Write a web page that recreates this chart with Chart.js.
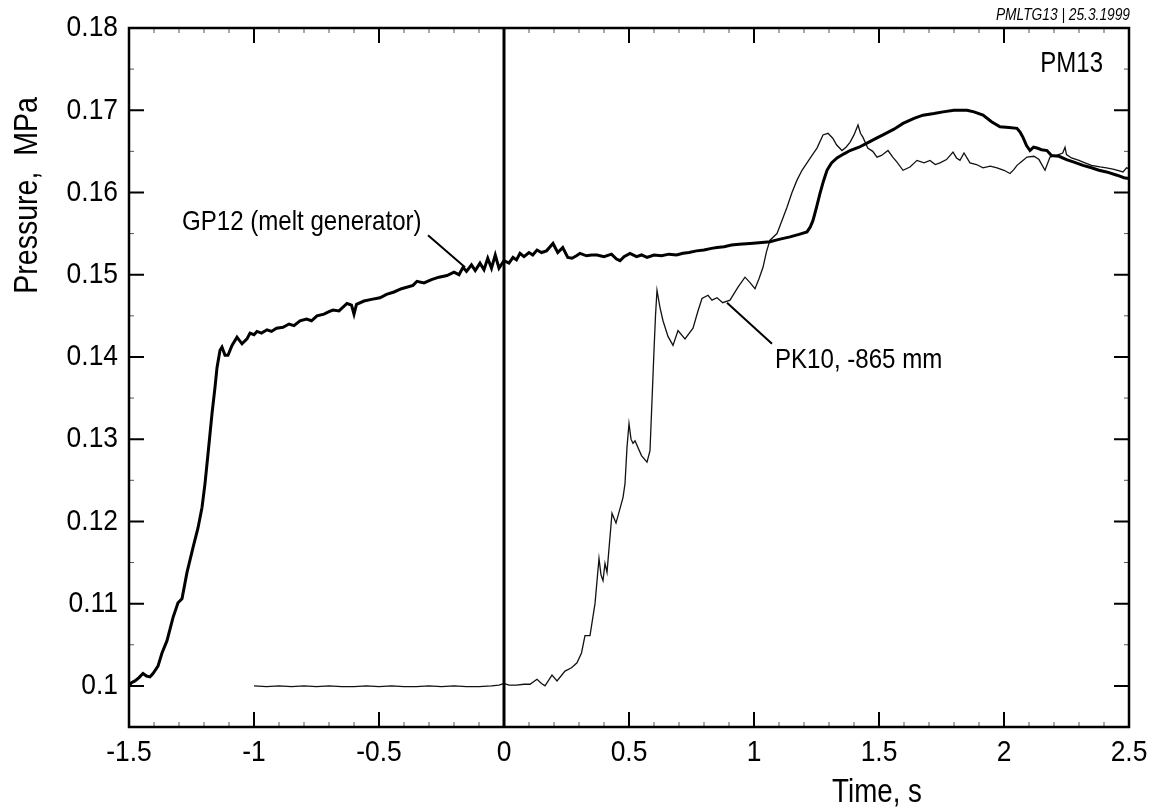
<!DOCTYPE html>
<html>
<head>
<meta charset="utf-8">
<script src="https://cdn.jsdelivr.net/npm/chart.js@4.4.1/dist/chart.umd.min.js"></script>
<style>
  html, body { margin: 0; padding: 0; background: #fff; }
  canvas { display: block; }
</style>
</head>
<body>
<canvas id="pressureChart" width="1152" height="812"></canvas>
<script>
// GP12 (melt generator)
const gp12Time = [-1.5, -1.49, -1.476, -1.46, -1.444, -1.43, -1.416, -1.404, -1.384, -1.368, -1.348, -1.324, -1.304, -1.288, -1.268, -1.244, -1.224, -1.208, -1.196, -1.184, -1.168, -1.156, -1.148, -1.136, -1.128, -1.116, -1.104, -1.088, -1.068, -1.048, -1.028, -1.016, -1.0, -0.988, -0.97, -0.948, -0.93, -0.91, -0.884, -0.86, -0.84, -0.816, -0.79, -0.77, -0.748, -0.72, -0.7, -0.684, -0.66, -0.628, -0.61, -0.6, -0.59, -0.56, -0.53, -0.496, -0.47, -0.44, -0.41, -0.364, -0.348, -0.32, -0.29, -0.26, -0.228, -0.2, -0.18, -0.164, -0.15, -0.13, -0.115, -0.096, -0.08, -0.065, -0.05, -0.035, -0.02, 0.0, 0.02, 0.036, 0.05, 0.064, 0.08, 0.1, 0.115, 0.132, 0.15, 0.17, 0.196, 0.215, 0.235, 0.255, 0.272, 0.29, 0.304, 0.33, 0.35, 0.372, 0.4, 0.43, 0.45, 0.464, 0.48, 0.504, 0.53, 0.55, 0.572, 0.6, 0.63, 0.66, 0.69, 0.716, 0.74, 0.77, 0.8, 0.83, 0.852, 0.88, 0.91, 0.94, 0.984, 1.02, 1.064, 1.1, 1.144, 1.18, 1.212, 1.225, 1.236, 1.25, 1.264, 1.278, 1.292, 1.31, 1.332, 1.36, 1.384, 1.42, 1.452, 1.49, 1.516, 1.56, 1.596, 1.64, 1.676, 1.72, 1.756, 1.8, 1.852, 1.88, 1.916, 1.95, 1.984, 2.02, 2.052, 2.065, 2.076, 2.09, 2.104, 2.118, 2.132, 2.15, 2.172, 2.19, 2.22, 2.25, 2.28, 2.316, 2.35, 2.38, 2.41, 2.452, 2.48, 2.5];
const gp12Pressure = [0.1, 0.1004, 0.1006, 0.101, 0.1015, 0.1012, 0.1011, 0.1015, 0.1024, 0.104, 0.1055, 0.1083, 0.1101, 0.1106, 0.1138, 0.1168, 0.1192, 0.1217, 0.1246, 0.1282, 0.1331, 0.1363, 0.1387, 0.1408, 0.1412, 0.1402, 0.1402, 0.1414, 0.1424, 0.1416, 0.1422, 0.1429, 0.1427, 0.1431, 0.1429, 0.1433, 0.1431, 0.1435, 0.1436, 0.144, 0.1438, 0.1444, 0.1446, 0.1444, 0.145, 0.1452, 0.1455, 0.1457, 0.1456, 0.1465, 0.1463, 0.1452, 0.1464, 0.1468, 0.147, 0.1472, 0.1476, 0.1479, 0.1483, 0.1487, 0.1492, 0.149, 0.1494, 0.1497, 0.1499, 0.1503, 0.15, 0.1509, 0.1504, 0.1512, 0.1505, 0.1514, 0.1506, 0.152, 0.1508, 0.1524, 0.1508, 0.1517, 0.1514, 0.1521, 0.1518, 0.1526, 0.1522, 0.1527, 0.1524, 0.153, 0.1527, 0.1529, 0.1538, 0.1527, 0.1533, 0.1521, 0.152, 0.1523, 0.1526, 0.1523, 0.1524, 0.1524, 0.1522, 0.1525, 0.1519, 0.1517, 0.1522, 0.1526, 0.1522, 0.1524, 0.1521, 0.1524, 0.1523, 0.1525, 0.1524, 0.1526, 0.1527, 0.1529, 0.153, 0.1532, 0.1533, 0.1534, 0.1536, 0.1537, 0.1538, 0.1539, 0.154, 0.1543, 0.1546, 0.1549, 0.1552, 0.1558, 0.1566, 0.1582, 0.1599, 0.1614, 0.1627, 0.1636, 0.1642, 0.1647, 0.1651, 0.1655, 0.166, 0.1666, 0.167, 0.1677, 0.1684, 0.169, 0.1694, 0.1696, 0.1698, 0.17, 0.17, 0.1698, 0.1694, 0.1686, 0.168, 0.1679, 0.1678, 0.1673, 0.1667, 0.1657, 0.1651, 0.1655, 0.1654, 0.1652, 0.1651, 0.1645, 0.1644, 0.164, 0.1637, 0.1633, 0.163, 0.1627, 0.1625, 0.1621, 0.1618, 0.1617];

// PK10, -865 mm
const pk10Time = [-1.0, -0.95, -0.9, -0.85, -0.8, -0.75, -0.7, -0.65, -0.6, -0.55, -0.5, -0.45, -0.4, -0.35, -0.3, -0.25, -0.2, -0.15, -0.1, -0.05, -0.02, 0.0, 0.02, 0.05, 0.08, 0.104, 0.132, 0.15, 0.164, 0.192, 0.212, 0.244, 0.27, 0.292, 0.31, 0.324, 0.344, 0.364, 0.38, 0.388, 0.396, 0.404, 0.412, 0.432, 0.448, 0.476, 0.484, 0.492, 0.5, 0.508, 0.516, 0.524, 0.55, 0.572, 0.584, 0.592, 0.6, 0.606, 0.612, 0.624, 0.636, 0.656, 0.676, 0.696, 0.724, 0.756, 0.775, 0.792, 0.816, 0.832, 0.852, 0.875, 0.904, 0.936, 0.964, 0.985, 1.004, 1.02, 1.036, 1.05, 1.064, 1.092, 1.112, 1.132, 1.152, 1.172, 1.192, 1.212, 1.232, 1.252, 1.276, 1.296, 1.315, 1.33, 1.352, 1.368, 1.384, 1.4, 1.416, 1.426, 1.436, 1.455, 1.475, 1.492, 1.51, 1.536, 1.555, 1.572, 1.596, 1.624, 1.652, 1.68, 1.704, 1.725, 1.744, 1.77, 1.796, 1.81, 1.824, 1.84, 1.864, 1.89, 1.916, 1.945, 1.972, 2.0, 2.024, 2.04, 2.052, 2.072, 2.092, 2.12, 2.14, 2.164, 2.184, 2.21, 2.235, 2.244, 2.25, 2.27, 2.3, 2.316, 2.35, 2.384, 2.41, 2.44, 2.476, 2.49, 2.5];
const pk10Pressure = [0.1, 0.0999, 0.1, 0.0999, 0.1, 0.0999, 0.1, 0.0999, 0.0999, 0.1, 0.0999, 0.1, 0.0999, 0.0999, 0.1, 0.0999, 0.1, 0.0999, 0.0999, 0.1, 0.1001, 0.1003, 0.1001, 0.1001, 0.1002, 0.1002, 0.1008, 0.1003, 0.1, 0.1013, 0.1006, 0.1018, 0.1022, 0.1028, 0.104, 0.1061, 0.1061, 0.11, 0.1155, 0.1135, 0.1128, 0.1149, 0.1138, 0.121, 0.1198, 0.1229, 0.1246, 0.129, 0.1319, 0.13, 0.1295, 0.1298, 0.128, 0.1272, 0.1286, 0.1347, 0.1408, 0.145, 0.1481, 0.146, 0.1444, 0.1425, 0.1414, 0.1432, 0.1422, 0.1435, 0.1455, 0.1471, 0.1475, 0.1469, 0.1472, 0.1466, 0.1469, 0.1485, 0.1497, 0.149, 0.1483, 0.1495, 0.1509, 0.1528, 0.1542, 0.155, 0.1566, 0.1582, 0.16, 0.1615, 0.1627, 0.1636, 0.1645, 0.1654, 0.167, 0.1672, 0.1666, 0.1658, 0.1651, 0.1655, 0.1661, 0.167, 0.1682, 0.1672, 0.1667, 0.1654, 0.165, 0.1643, 0.1645, 0.1651, 0.1643, 0.1637, 0.1627, 0.1631, 0.1639, 0.1636, 0.1639, 0.1634, 0.1636, 0.164, 0.1649, 0.1642, 0.1639, 0.1648, 0.1636, 0.1634, 0.163, 0.1632, 0.163, 0.1627, 0.1623, 0.1628, 0.1633, 0.1638, 0.1643, 0.1644, 0.164, 0.1627, 0.1643, 0.1645, 0.1648, 0.1655, 0.1646, 0.1642, 0.1639, 0.1637, 0.1633, 0.1631, 0.163, 0.1628, 0.1625, 0.163, 0.1629];

// axis ticks
const xTicks = [-1.5, -1, -0.5, 0, 0.5, 1, 1.5, 2, 2.5];
const yTicks = [0.1, 0.11, 0.12, 0.13, 0.14, 0.15, 0.16, 0.17, 0.18];

const FONT = "'Liberation Sans', Arial, sans-serif";

function toPoints(xs, ys) {
    return xs.map((x, i) => ({ x: x, y: ys[i] }));
}

// the scanned figure uses a condensed face, so squeeze the text horizontally
function drawText(ctx, text, x, y, size, align, squeeze, rotate, style) {
    ctx.save();
    ctx.translate(x, y);
    if (rotate) ctx.rotate(rotate);
    ctx.scale(squeeze, 1);
    ctx.font = (style ? style + ' ' : '') + size + 'px ' + FONT;
    ctx.textAlign = align;
    ctx.fillText(text, 0, 0);
    ctx.restore();
}

// frame, inward ticks, labels, annotations
const decorPlugin = {
    id: 'decor',
    afterDraw(chart) {
        const ctx = chart.ctx;
        const area = chart.chartArea;
        const xs = chart.scales.x;
        const ys = chart.scales.y;
        ctx.save();
        ctx.strokeStyle = '#000';
        ctx.fillStyle = '#000';

        // vertical line at t = 0
        ctx.lineWidth = 3;
        ctx.beginPath();
        ctx.moveTo(xs.getPixelForValue(0), area.top);
        ctx.lineTo(xs.getPixelForValue(0), area.bottom);
        ctx.stroke();

        // minor ticks
        ctx.lineWidth = 1;
        ctx.strokeStyle = '#555';
        for (let i = -15; i <= 25; i++) {
            if (i % 5 === 0) continue;
            const px = xs.getPixelForValue(i / 10);
            ctx.beginPath();
            ctx.moveTo(px, area.bottom); ctx.lineTo(px, area.bottom - 5);
            ctx.moveTo(px, area.top); ctx.lineTo(px, area.top + 5);
            ctx.stroke();
        }
        for (let i = 19; i <= 35; i += 2) {
            const py = ys.getPixelForValue(i * 0.005);
            ctx.beginPath();
            ctx.moveTo(area.left, py); ctx.lineTo(area.left + 5, py);
            ctx.moveTo(area.right, py); ctx.lineTo(area.right - 5, py);
            ctx.stroke();
        }

        // major ticks
        ctx.strokeStyle = '#000';
        ctx.lineWidth = 2;
        xTicks.forEach(v => {
            const px = xs.getPixelForValue(v);
            ctx.beginPath();
            ctx.moveTo(px, area.bottom); ctx.lineTo(px, area.bottom - 15);
            ctx.moveTo(px, area.top); ctx.lineTo(px, area.top + 15);
            ctx.stroke();
        });
        yTicks.forEach(v => {
            const py = ys.getPixelForValue(v);
            ctx.beginPath();
            ctx.moveTo(area.left, py); ctx.lineTo(area.left + 15, py);
            ctx.moveTo(area.right, py); ctx.lineTo(area.right - 15, py);
            ctx.stroke();
        });

        // frame
        ctx.lineWidth = 2.5;
        ctx.strokeRect(area.left, area.top, area.right - area.left, area.bottom - area.top);

        // tick labels
        ctx.textBaseline = 'middle';
        xTicks.forEach(v => {
            drawText(ctx, String(v), xs.getPixelForValue(v), area.bottom + 26, 30, 'center', 0.88);
        });
        yTicks.forEach(v => {
            drawText(ctx, String(v), area.left - 11, ys.getPixelForValue(v), 30, 'right', 0.88);
        });

        // axis titles
        ctx.textBaseline = 'alphabetic';
        drawText(ctx, 'Time, s', 877, 802, 33, 'center', 0.84);
        drawText(ctx, 'Pressure,  MPa', 37, 97, 34, 'right', 0.84, -Math.PI / 2);

        // series labels with leader lines
        ctx.textBaseline = 'middle';
        drawText(ctx, 'GP12 (melt generator)', xs.getPixelForValue(-1.288), ys.getPixelForValue(0.1564), 28, 'left', 0.86);
        drawText(ctx, 'PK10, -865 mm', xs.getPixelForValue(1.084), ys.getPixelForValue(0.1396), 28, 'left', 0.86);
        ctx.lineWidth = 2;
        ctx.beginPath();
        ctx.moveTo(xs.getPixelForValue(-0.304), ys.getPixelForValue(0.1548));
        ctx.lineTo(xs.getPixelForValue(-0.156), ys.getPixelForValue(0.1509));
        ctx.moveTo(xs.getPixelForValue(1.072), ys.getPixelForValue(0.1416));
        ctx.lineTo(xs.getPixelForValue(0.892), ys.getPixelForValue(0.1466));
        ctx.stroke();

        // run tags
        drawText(ctx, 'PM13', 1103, 64, 30, 'right', 0.8);
        drawText(ctx, 'PMLTG13 | 25.3.1999', 1130, 16, 16, 'right', 0.86, 0, 'italic');
        ctx.restore();
    }
};

new Chart(document.getElementById('pressureChart'), {
    type: 'line',
    data: {
        datasets: [
            {
                label: 'GP12 (melt generator)',
                data: toPoints(gp12Time, gp12Pressure),
                borderColor: '#000',
                borderWidth: 3,
                pointRadius: 0,
                tension: 0,
                fill: false
            },
            {
                label: 'PK10, -865 mm',
                data: toPoints(pk10Time, pk10Pressure),
                borderColor: '#111',
                borderWidth: 1.3,
                pointRadius: 0,
                tension: 0,
                fill: false
            }
        ]
    },
    options: {
        responsive: false,
        animation: false,
        devicePixelRatio: 1,
        layout: { padding: { left: 129, right: 23, top: 28, bottom: 85 } },
        plugins: {
            legend: { display: false },
            tooltip: { enabled: false }
        },
        scales: {
            x: { type: 'linear', min: -1.5, max: 2.5, display: false },
            y: { type: 'linear', min: 0.095, max: 0.18, display: false }
        }
    },
    plugins: [decorPlugin]
});
</script>
</body>
</html>
